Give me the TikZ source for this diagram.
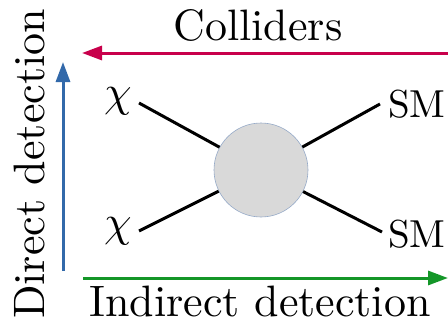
\documentclass[tikz,border=0pt]{standalone}
\usepackage{amsmath}
\usepackage{xcolor}
\usepackage{tikz}
\usetikzlibrary{arrows.meta,calc,positioning}

\definecolor{colred}{RGB}{200,0,75}
\definecolor{dirblue}{RGB}{50,105,170}
\definecolor{indgreen}{RGB}{20,150,40}
\definecolor{blobgray}{RGB}{217,217,217}
\definecolor{blobedge}{RGB}{150,170,200}

\begin{document}
\begin{tikzpicture}[x=1pt,y=-1pt]

\tikzset{axis/.style={line width=3pt, -{Triangle[length=20pt,width=14pt]}},
leg/.style={line width=3pt, black},
lab/.style={font=\fontsize{10}{12}\selectfont, inner sep=0pt, scale=4.4},
smlab/.style={lab, scale=3.9/4.4}}

\useasboundingbox (0,0) rectangle (448,324);

\node[circle, fill=blobgray, draw=blobedge, line width=0.6pt, minimum size=94pt, inner sep=0pt] (blob) at (261,170) {};

\node[lab] (chi1) at (118,101) {$\chi$};
\node[lab] (chi2) at (118,231) {$\chi$};
\node[smlab, anchor=base] (sm1) at (417,117) {SM};
\node[smlab, anchor=base] (sm2) at (417,247) {SM};

\coordinate (l1) at (139,103);
\coordinate (l2) at (139,231);
\coordinate (r1) at (380,104);
\coordinate (r2) at (382,232);

\foreach \p in {l1,l2,r1,r2}
\draw[leg] (\p) -- (blob);

% processes
\coordinate (cs) at (448,53);
\coordinate (ce) at (82,53);
\draw[axis, colred] (cs) -- (ce);
\node[lab, anchor=base] (coll) at (258,41) {Colliders};

\coordinate (ds) at (63,271);
\coordinate (de) at (63,62);
\draw[axis, dirblue] (ds) -- (de);
\node[lab, rotate=90, anchor=base] (direct) at (45,164) {Direct detection};

\coordinate (is) at (83,278);
\coordinate (ie) at (448,278);
\draw[axis, indgreen] (is) -- (ie);
\node[lab, anchor=base] (indirect) at (260,316) {Indirect detection};

\end{tikzpicture}
\end{document}
